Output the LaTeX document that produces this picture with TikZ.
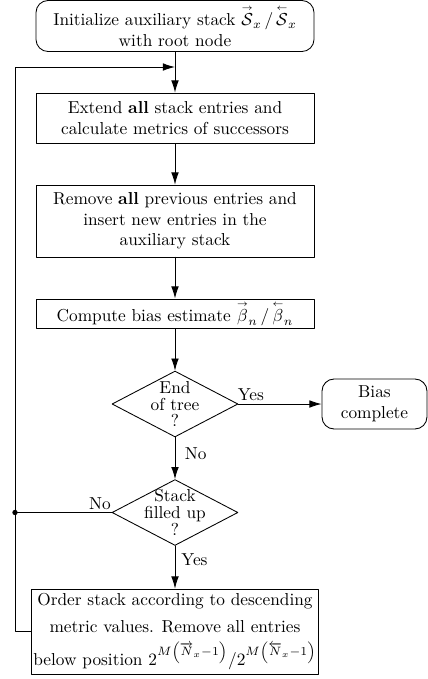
\documentclass[tikz,border=0pt]{standalone}
\usepackage{amsmath}
\usepackage{amssymb}
\usetikzlibrary{arrows.meta, shapes.geometric, positioning}

\newcommand{\fwd}[1]{\overset{\scriptscriptstyle\rightarrow}{#1}}
\newcommand{\bwd}[1]{\overset{\scriptscriptstyle\leftarrow}{#1}}

\begin{document}
\begin{tikzpicture}[
  x=0.578pt,y=-0.578pt,
  line cap=round,line join=round,
  >={Latex[length=7pt,width=4.4pt]}
]
  \tikzset{
    block/.style={rectangle,draw,line width=0.5pt,minimum width=160.7pt,inner sep=1pt,align=center},
    term/.style={block,rounded corners=7pt},
    decision/.style={diamond,draw,line width=0.5pt,minimum width=72.8pt,minimum height=38.1pt,inner sep=0pt},
    dectext/.style={align=center,inner sep=0pt,font=\fontsize{10}{9.8}\selectfont},
    flow/.style={line width=0.5pt,->},
    lbl/.style={inner sep=1.5pt},
    pt/.style={circle,fill=black,inner sep=1.1pt}
  }
  \useasboundingbox (0,0) rectangle (428,679);

  % Main chain
  \node[term,minimum height=29.5pt] (init) at (175,26)
    {Initialize auxiliary stack $\fwd{\mathcal{S}}_x \,/\, \bwd{\mathcal{S}}_x$\\with root node};
  \node[block,minimum height=28.9pt] (extend) at (175,118)
    {Extend \textbf{all} stack entries and\\calculate metrics of successors};
  \node[block,minimum height=41.6pt] (remove) at (175,221)
    {Remove \textbf{all} previous entries and\\insert new entries in the\\auxiliary stack};
  \node[block,minimum height=16.8pt] (bias) at (175,313.5)
    {Compute bias estimate $\fwd{\beta}_n \,/\, \bwd{\beta}_n$};

  % Decisions
  \node[decision] (endtree) at (175,404) {};
  \node[dectext] (endtreetxt) at (endtree) {End\\of tree\\?};
  \node[decision] (filled) at (175,512.5) {};
  \node[dectext] (filledtxt) at (filled) {Stack\\filled up\\?};

  \node[term,minimum width=60.7pt,minimum height=28.9pt] (done) at (374.5,404) {Bias\\complete};

  \node[block,minimum height=49.1pt] (order) at (175,631.5)
    {Order stack according to descending\\[4pt]
     metric values. Remove all entries\\[4pt]
     below position $2^{M\left(\overrightarrow{N}_x-1\right)}/2^{M\left(\overleftarrow{N}_x-1\right)}$};

  % Loop points
  \coordinate (looptop) at (15,67);
  \coordinate (merge) at (175,67);
  \coordinate (loopdot) at (15,512.5);

  % Connectors
  \draw[flow] (init) -- (extend);
  \draw[flow] (extend) -- (remove);
  \draw[flow] (remove) -- (bias);
  \draw[flow] (bias) -- (endtree);
  \draw[flow] (endtree) -- node[lbl,above,pos=0.15] {Yes} (done);
  \draw[flow] (endtree) -- node[lbl,right=4pt,pos=0.4] {No} (filled);
  \draw[flow] (filled) -- node[lbl,right=2pt,pos=0.32] {Yes} (order);
  \draw[line width=0.5pt] (filled) -- node[lbl,above,pos=0.12] {No} (loopdot);
  \draw[flow] (order.west) -| (looptop) -- (merge);
  \node[pt] (dot) at (loopdot) {};
\end{tikzpicture}
\end{document}
